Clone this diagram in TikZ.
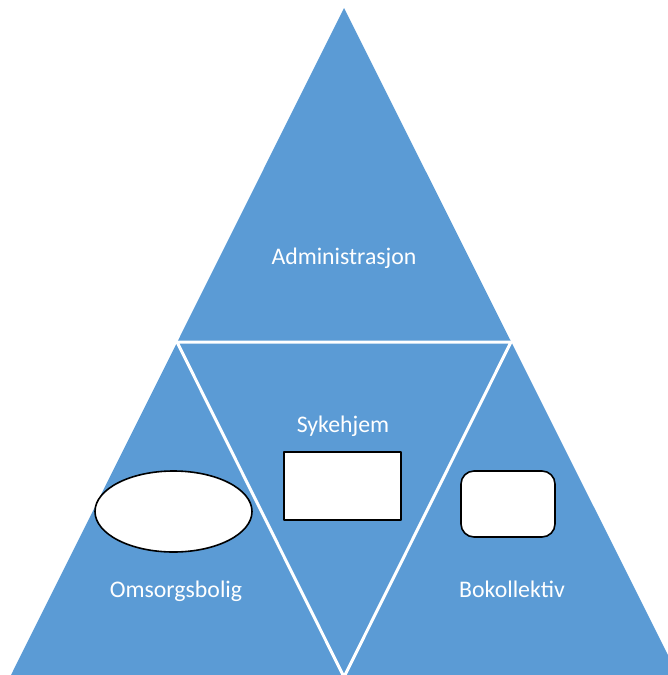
\documentclass[tikz,border=0pt]{standalone}
\usepackage{fontspec}
\setmainfont{Carlito}
\usetikzlibrary{shapes.geometric}
\definecolor{blokkbla}{HTML}{5B9BD5}
\begin{document}
\begin{tikzpicture}[x=1pt,y=-1pt, line join=round, font=\fontsize{23.8}{28}\selectfont,
    etikett/.style={text=white, inner sep=0pt, anchor=base},
    boks/.style={draw=black, line width=1.6pt, fill=white, inner sep=0pt}]
  \useasboundingbox (0,0) rectangle (668,675);
  \clip (0,0) rectangle (668,675);
  % hjornene i trekanten
  \coordinate (topp) at (344,8);
  \coordinate (vn) at (10,677);
  \coordinate (hn) at (679,677);
  \coordinate (vm) at (177,342);
  \coordinate (hm) at (511,342);
  \coordinate (bunn) at (344,677);
  \fill[blokkbla] (topp) -- (hn) -- (vn) -- cycle;
  \draw[white, line width=3pt] (vm) -- (hm) -- (bunn) -- cycle;
  % tekst
  \node[etikett] (admin) at (344,264) {Administrasjon};
  \node[etikett] (syke) at (343,432) {Sykehjem};
  \node[etikett] (omsorg) at (176,597) {Omsorgsbolig};
  \node[etikett] (bokoll) at (512,597) {Bokollektiv};
  % figurer
  \node[boks, ellipse, minimum width=157pt, minimum height=81pt] (oval) at (173.5,511.5) {};
  \node[boks, rectangle, minimum width=117pt, minimum height=68pt] (firkant) at (342.5,486) {};
  \node[boks, rectangle, rounded corners=13pt, minimum width=94pt, minimum height=66pt] (avrundet) at (508,504) {};
\end{tikzpicture}
\end{document}
